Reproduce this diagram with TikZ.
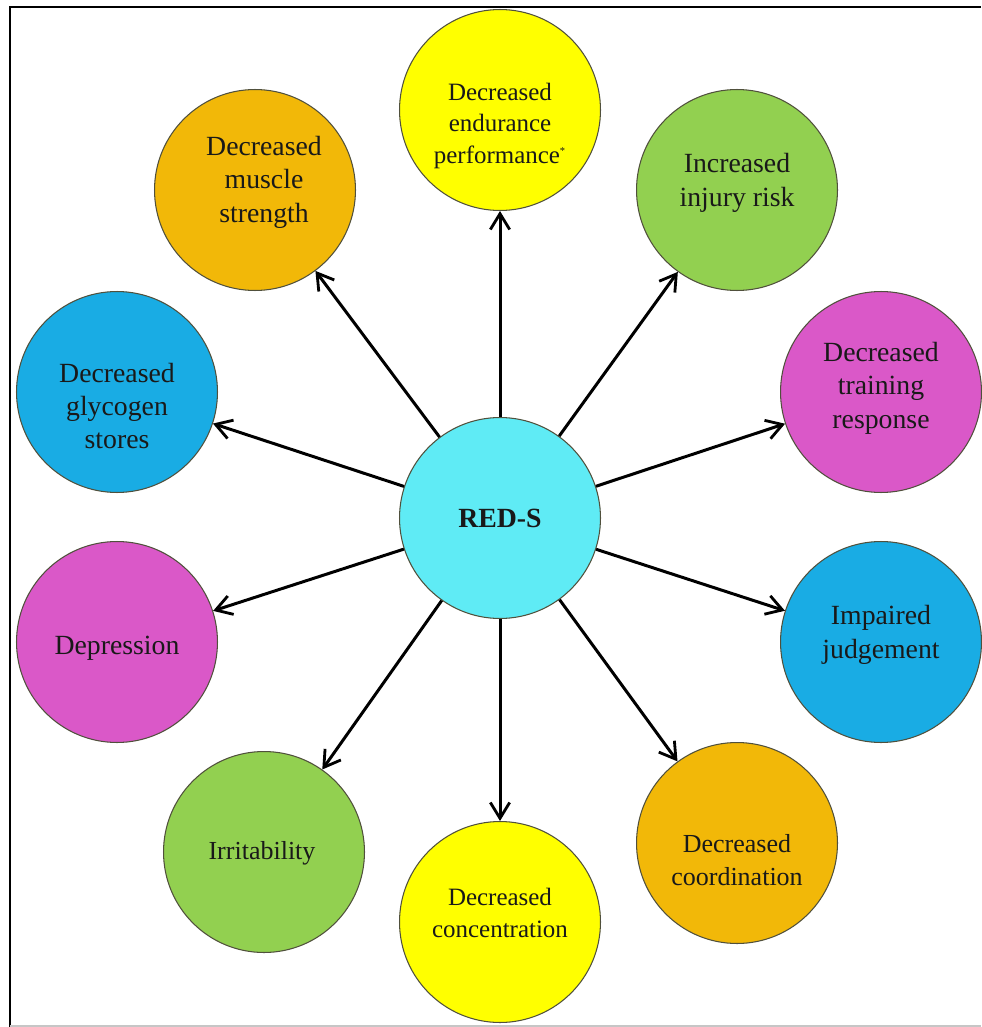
\documentclass[tikz,border=0pt]{standalone}
\usepackage{fontspec}
\setmainfont{Liberation Serif}
\usetikzlibrary{arrows.meta}
\definecolor{cgold}{RGB}{242,184,8}
\definecolor{cyel}{RGB}{255,255,0}
\definecolor{cgreen}{RGB}{146,208,80}
\definecolor{cmag}{RGB}{218,88,200}
\definecolor{cblue}{RGB}{25,172,228}
\definecolor{ccyan}{RGB}{95,235,245}
\definecolor{cedge}{RGB}{80,80,60}
\definecolor{ctext}{RGB}{25,25,25}
\tikzset{
  bubble/.style={circle, draw=cedge, line width=0.6pt, minimum size=4.02cm, inner sep=0pt},
  lbl/.style={align=center, text=ctext, font=\fontsize{15.8}{19}\selectfont},
  lblsmall/.style={align=center, text=ctext, font=\fontsize{14.2}{18}\selectfont},
  conn/.style={line width=1.7pt, -{Straight Barb[length=9pt,width=11pt,line width=1.6pt]}}
}
\begin{document}
\begin{tikzpicture}[x=0.02cm,y=-0.02cm]
\useasboundingbox (0,0) rectangle (981,1027);
\fill[white] (0,0) rectangle (981,1027);
% frame
\draw[line width=1.3pt] (10,1027) -- (10,7) -- (981,7);
\draw[line width=0.8pt, gray!45] (10,1026) -- (981,1026);
% circles
\node[bubble, fill=ccyan] (c) at (500,518) {};
\node[bubble, fill=cyel] (endu) at (500,110) {};
\node[bubble, fill=cgold] (musc) at (255,190) {};
\node[bubble, fill=cgreen] (inj) at (737,190) {};
\node[bubble, fill=cmag] (train) at (881,392) {};
\node[bubble, fill=cblue] (glyc) at (117,392) {};
\node[bubble, fill=cmag] (depr) at (117,642) {};
\node[bubble, fill=cblue] (judg) at (881,642) {};
\node[bubble, fill=cgold] (coord) at (737,843) {};
\node[bubble, fill=cgreen] (irr) at (264,852) {};
\node[bubble, fill=cyel] (conc) at (500,922) {};
% texts
\node[text=ctext, font=\fontsize{15.8}{19}\bfseries] (tc) at (500,518) {RED-S};
\node[lblsmall] (tendu) at (500,126) {Decreased\\endurance\\performance\textsuperscript{\fontsize{6}{6}\selectfont *}};
\node[lbl] (tmusc) at (264,182) {Decreased\\muscle\\strength};
\node[lbl] (tinj) at (737,183) {Increased\\injury risk};
\node[lbl] (ttrain) at (881,388) {Decreased\\training\\response};
\node[lbl] (tglyc) at (117,406) {Decreased\\glycogen\\stores};
\node[lbl] (tdepr) at (117,648) {Depression};
\node[lbl] (tjudg) at (881,635) {Impaired\\judgement};
\node[lblsmall, font=\fontsize{14.8}{18.5}\selectfont] (tcoord) at (737,860) {Decreased\\coordination};
\node[lblsmall, font=\fontsize{14.8}{18.5}\selectfont] (tirr) at (262,853) {Irritability};
\node[lblsmall] (tconc) at (500,913) {Decreased\\concentration};
% connectors
\foreach \t in {endu,musc,inj,train,glyc,depr,judg,coord,irr,conc}
  \draw[conn] (c) -- (\t);
\end{tikzpicture}
\end{document}
